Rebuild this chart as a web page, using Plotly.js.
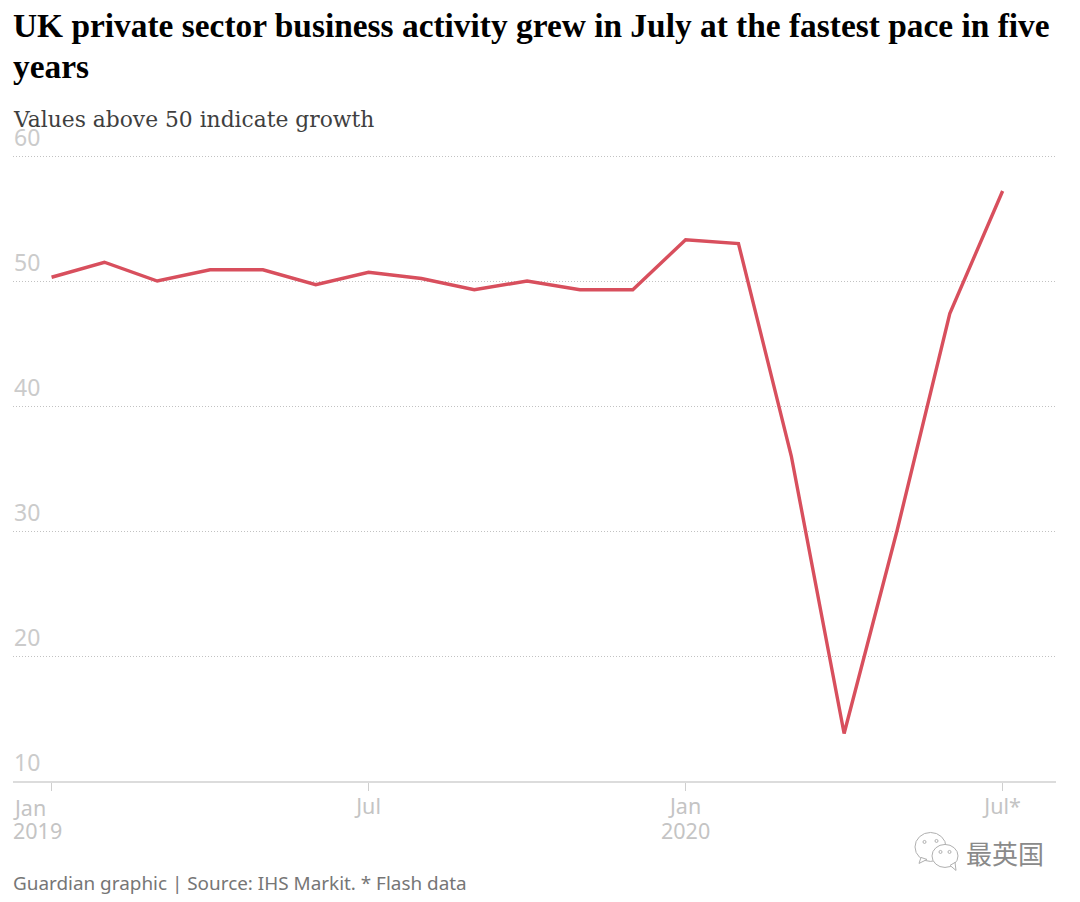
<!DOCTYPE html>
<html>
<head>
<meta charset="utf-8">
<script src="https://cdn.plot.ly/plotly-3.0.1.min.js"></script>
<style>html,body{margin:0;padding:0;background:#fff}</style>
</head>
<body>
<div id="chart" style="width:1080px;height:902px"></div>
<script>
const months = ["Jan 2019","Feb 2019","Mar 2019","Apr 2019","May 2019","Jun 2019","Jul 2019","Aug 2019","Sep 2019","Oct 2019","Nov 2019","Dec 2019","Jan 2020","Feb 2020","Mar 2020","Apr 2020","May 2020","Jun 2020","Jul 2020"];
const pmi = [50.3,51.5,50.0,50.9,50.9,49.7,50.7,50.2,49.3,50.0,49.3,49.3,53.3,53.0,36.0,13.8,30.0,47.4,57.2];
const xTickVals = ["Jul 2019","Jan 2020","Jul 2020"];
const xTickText = ["Jul","Jan","Jul*"];
const firstTickVal = "Jan 2019";
const firstTickMonth = "Jan";
const firstYear = "2019";
const secondYear = "2020";
const yTicks = [10,20,30,40,50,60];
const titleLine1 = "UK private sector business activity grew in July at the fastest pace in five";
const titleLine2 = "years";
const subtitleText = "Values above 50 indicate growth";
const footerText = "Guardian graphic | Source: IHS Markit. * Flash data";
const watermarkText = "最英国";

const W = 1080, H = 902, L = 13, R = 1056, T = 150, B = 781.5;
const yMax = 60 + 6 / 12.51;
const px = x => (x - L) / (R - L);
const py = y => (B - y) / (B - T);
const sans = "'Noto Sans', 'Open Sans', sans-serif";
const serif = "'Liberation Serif', serif";
const slab = "'DejaVu Serif', serif";
const TICK = '#c4c4c4';
const note = (text, x, y, size, color, family) => ({
  text, xref: 'paper', yref: 'paper', x: px(x), y: py(y), xanchor: 'left', yanchor: 'top',
  showarrow: false, align: 'left', font: {size, color, family}
});
const circle = (x0, y0, x1, y1, line, fill) => ({
  type: 'circle', xref: 'paper', yref: 'paper', layer: 'above',
  x0: px(x0), x1: px(x1), y0: py(y0), y1: py(y1),
  line: {color: line, width: 1}, fillcolor: fill
});
const tail = (pts, line) => ({
  type: 'path', xref: 'paper', yref: 'paper', layer: 'above',
  path: 'M' + pts.map(p => px(p[0]) + ',' + py(p[1])).join(' L') + ' Z',
  line: {color: line, width: 1}, fillcolor: '#fff'
});
const ICON = '#b0b0b0';

Plotly.newPlot('chart', [{
  type: 'scatter', mode: 'lines', x: months, y: pmi,
  line: {color: '#d84f5d', width: 3.4, shape: 'linear'},
  hoverinfo: 'x+y', cliponaxis: false
}], {
  width: W, height: H,
  paper_bgcolor: '#fff', plot_bgcolor: '#fff',
  margin: {l: L, r: W - R, t: T, b: H - B, pad: 0},
  showlegend: false,
  title: {
    text: '<b>' + titleLine1 + '</b>', xref: 'container', yref: 'container',
    x: 13 / W, xanchor: 'left', y: 1 - 14 / H, yanchor: 'top', pad: {t: 0, l: 0},
    font: {family: serif, size: 33.4, color: '#000'}
  },
  xaxis: {
    type: 'category', categoryorder: 'array', categoryarray: months,
    range: [-0.73, 19.01],
    tickmode: 'array', tickvals: [firstTickVal].concat(xTickVals), ticktext: [''].concat(xTickText),
    ticks: 'outside', ticklen: 8, tickwidth: 1, tickcolor: '#cfcfcf',
    ticklabelstandoff: -3,
    showline: true, linecolor: '#dcdcdc', linewidth: 2,
    showgrid: false, zeroline: false, automargin: false,
    tickfont: {family: sans, size: 21.5, color: TICK}
  },
  yaxis: {
    range: [10, yMax], tickmode: 'array', tickvals: yTicks, ticktext: yTicks.map(String),
    ticklabelposition: 'inside', ticklabelshift: -18, ticklabeloverflow: 'allow', ticklabelstandoff: -2, ticks: '',
    showgrid: true, griddash: '1px,2px', gridcolor: '#c2c2c2', gridwidth: 1,
    showline: false, zeroline: false, automargin: false,
    tickfont: {family: sans, size: 23, color: '#cbcbcb'}
  },
  annotations: [
    note('<b>' + titleLine2 + '</b>', 11, 46, 33.4, '#000', serif),
    note(subtitleText, 11, 105, 21.8, '#3f3f3f', slab),
    note(firstTickMonth, 11, 792, 21.5, TICK, sans),
    note(firstYear, 11, 815, 21.5, TICK, sans),
    {text: secondYear, xref: 'x', yref: 'paper', x: "Jan 2020", y: py(815), xanchor: 'center', yanchor: 'top',
     showarrow: false, font: {size: 21.5, color: TICK, family: sans}},
    note(footerText, 11, 869, 18.9, '#767676', sans),
    note(watermarkText, 964, 833, 26, '#8a8a8a', "'Noto Sans CJK SC', sans-serif")
  ],
  shapes: [
    circle(915, 833, 946, 862, ICON, '#fff'),
    tail([[919, 864], [921, 858], [927, 860]], ICON),
    circle(932, 845, 958, 868, ICON, '#fff'),
    tail([[956, 871], [950, 866], [955, 863]], ICON),
    circle(923, 841, 926, 844, ICON, '#fff'),
    circle(935, 840, 938, 843, ICON, '#fff'),
    circle(939, 851, 942, 854, ICON, '#fff'),
    circle(948, 851, 951, 854, ICON, '#fff')
  ]
}, {displayModeBar: false, staticPlot: true});
</script>
</body>
</html>
